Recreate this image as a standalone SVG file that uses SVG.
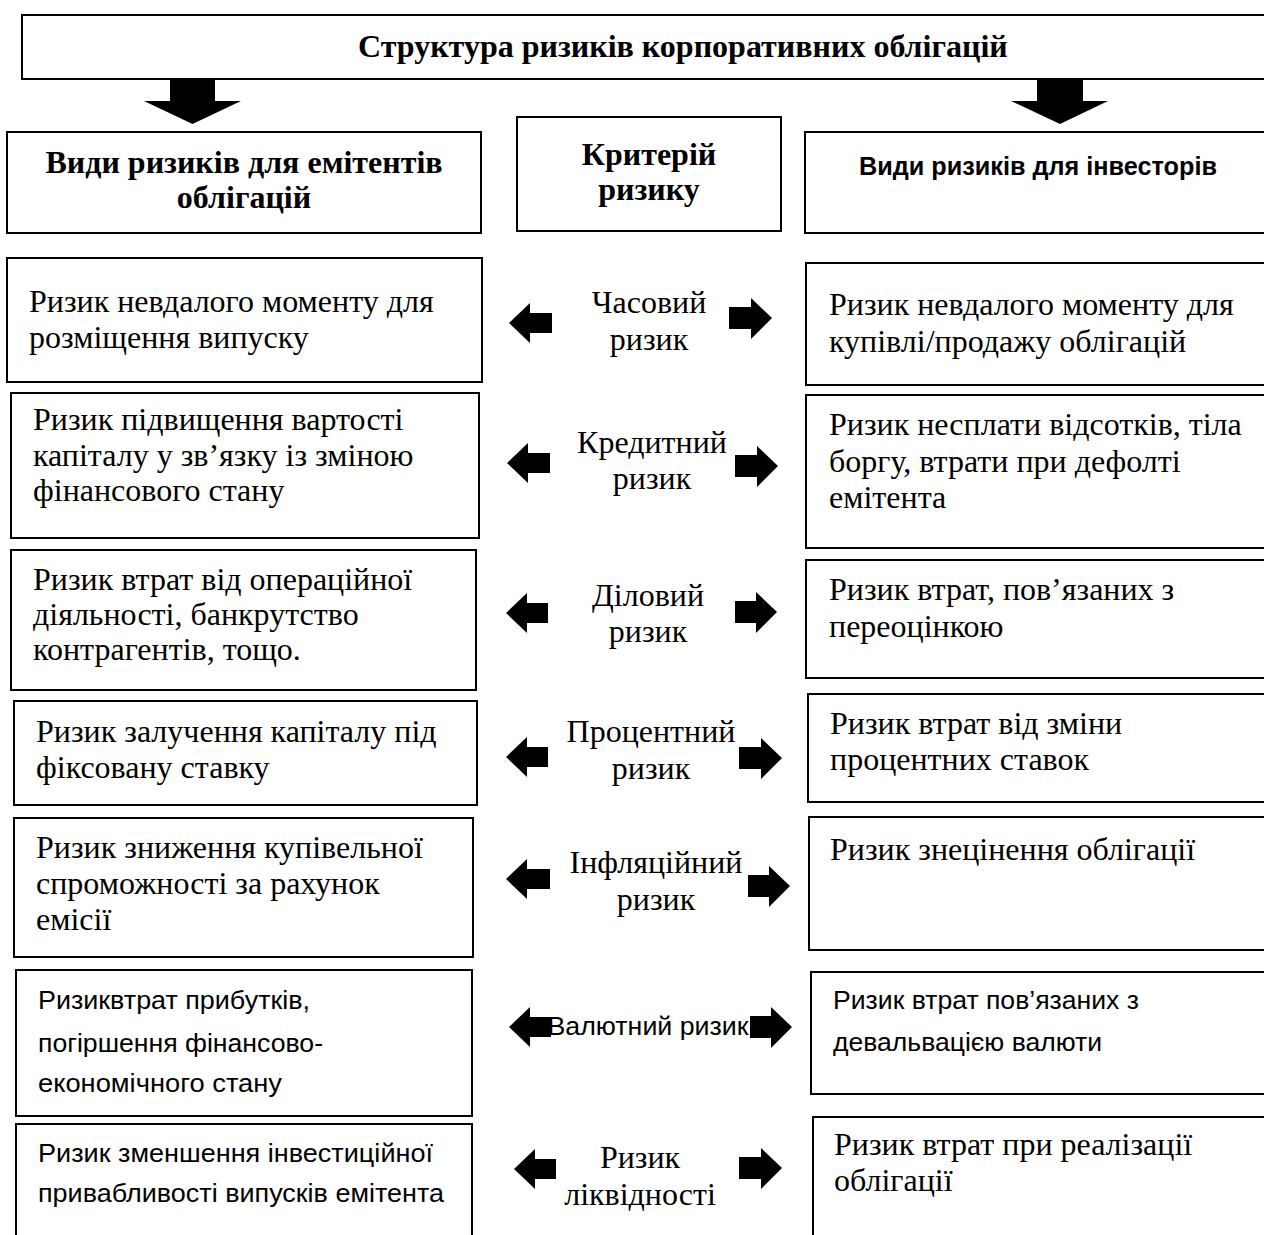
<svg xmlns="http://www.w3.org/2000/svg" width="1264" height="1235" viewBox="0 0 1264 1235">
<style>
.box{fill:#fff;stroke:#000;stroke-width:2}
.t{font-family:"Liberation Serif","Times New Roman",serif;font-size:32px;fill:#000}
.b{font-family:"Liberation Serif","Times New Roman",serif;font-size:32px;font-weight:bold;fill:#000}
.s{font-family:"Liberation Sans",Arial,sans-serif;font-size:26.5px;fill:#000}
.sb{font-family:"Liberation Sans",Arial,sans-serif;font-size:25.5px;font-weight:bold;fill:#000}
.c{text-anchor:middle}
.arr{fill:#000}
</style>
<rect width="1264" height="1235" fill="#fff"/>

<g id="title">
<rect class="box" x="22" y="15" width="1260" height="64"/>
<text class="b" x="358" y="57">Структура ризиків корпоративних облігацій</text>
</g>

<g id="head-issuers">
<rect class="box" x="7" y="132" width="474" height="101"/>
<text class="b c" x="244" y="173">Види ризиків для емітентів</text>
<text class="b c" x="244" y="208">облігацій</text>
</g>

<g id="head-criterion">
<rect class="box" x="517" y="117" width="264" height="114"/>
<text class="b c" x="649" y="165">Критерій</text>
<text class="b c" x="649" y="200">ризику</text>
</g>

<g id="head-investors">
<rect class="box" x="805" y="132" width="480" height="101"/>
<text class="sb" x="859" y="175" textLength="358" lengthAdjust="spacingAndGlyphs">Види ризиків для інвесторів</text>
</g>

<g id="issuer-1">
<rect class="box" x="7" y="258" width="475" height="124"/>
<text class="t" x="29" y="312">Ризик невдалого моменту для</text>
<text class="t" x="29" y="348">розміщення випуску</text>
</g>
<g id="issuer-2">
<rect class="box" x="11" y="393" width="468" height="145"/>
<text class="t" x="33" y="430">Ризик підвищення вартості</text>
<text class="t" x="33" y="466">капіталу у зв’язку із зміною</text>
<text class="t" x="33" y="501">фінансового стану</text>
</g>
<g id="issuer-3">
<rect class="box" x="11" y="550" width="465" height="140"/>
<text class="t" x="33" y="590">Ризик втрат від операційної</text>
<text class="t" x="33" y="625">діяльності, банкрутство</text>
<text class="t" x="33" y="660">контрагентів, тощо.</text>
</g>
<g id="issuer-4">
<rect class="box" x="14" y="701" width="463" height="104"/>
<text class="t" x="36" y="742">Ризик залучення капіталу під</text>
<text class="t" x="36" y="778">фіксовану ставку</text>
</g>
<g id="issuer-5">
<rect class="box" x="14" y="818" width="459" height="139"/>
<text class="t" x="36" y="858">Ризик зниження купівельної</text>
<text class="t" x="36" y="894">спроможності за рахунок</text>
<text class="t" x="36" y="930">емісії</text>
</g>
<g id="issuer-6">
<rect class="box" x="16" y="970" width="456" height="146"/>
<text class="s" x="38" y="1009" textLength="272" lengthAdjust="spacingAndGlyphs">Ризиквтрат прибутків,</text>
<text class="s" x="38" y="1052" textLength="285" lengthAdjust="spacingAndGlyphs">погіршення фінансово-</text>
<text class="s" x="38" y="1092" textLength="244" lengthAdjust="spacingAndGlyphs">економічного стану</text>
</g>
<g id="issuer-7">
<rect class="box" x="16" y="1124" width="456" height="130"/>
<text class="s" x="38" y="1162" textLength="395" lengthAdjust="spacingAndGlyphs">Ризик зменшення інвестиційної</text>
<text class="s" x="38" y="1202" textLength="406" lengthAdjust="spacingAndGlyphs">привабливості випусків емітента</text>
</g>

<g id="crit-1">
<text class="t c" x="649" y="313">Часовий</text>
<text class="t c" x="649" y="350">ризик</text>
</g>
<g id="crit-2">
<text class="t c" x="652" y="453">Кредитний</text>
<text class="t c" x="652" y="489">ризик</text>
</g>
<g id="crit-3">
<text class="t c" x="648" y="606">Діловий</text>
<text class="t c" x="648" y="642">ризик</text>
</g>
<g id="crit-4">
<text class="t c" x="651" y="742">Процентний</text>
<text class="t c" x="651" y="779">ризик</text>
</g>
<g id="crit-5">
<text class="t c" x="656" y="873">Інфляційний</text>
<text class="t c" x="656" y="910">ризик</text>
</g>
<g id="crit-6">
<text class="s c" x="648" y="1035" textLength="201" lengthAdjust="spacingAndGlyphs">Валютний ризик</text>
</g>
<g id="crit-7">
<text class="t c" x="640" y="1168">Ризик</text>
<text class="t c" x="640" y="1205">ліквідності</text>
</g>

<g id="investor-1">
<rect class="box" x="806" y="263" width="480" height="122"/>
<text class="t" x="829" y="315">Ризик невдалого моменту для</text>
<text class="t" x="829" y="352">купівлі/продажу облігацій</text>
</g>
<g id="investor-2">
<rect class="box" x="806" y="395" width="480" height="153"/>
<text class="t" x="829" y="435">Ризик несплати відсотків, тіла</text>
<text class="t" x="829" y="472">боргу, втрати при дефолті</text>
<text class="t" x="829" y="508">емітента</text>
</g>
<g id="investor-3">
<rect class="box" x="806" y="560" width="480" height="118"/>
<text class="t" x="829" y="600">Ризик втрат, пов’язаних з</text>
<text class="t" x="829" y="637">переоцінкою</text>
</g>
<g id="investor-4">
<rect class="box" x="808" y="694" width="480" height="108"/>
<text class="t" x="830" y="734">Ризик втрат від зміни</text>
<text class="t" x="830" y="770">процентних ставок</text>
</g>
<g id="investor-5">
<rect class="box" x="809" y="817" width="480" height="133"/>
<text class="t" x="830" y="860">Ризик знецінення облігації</text>
</g>
<g id="investor-6">
<rect class="box" x="811" y="972" width="480" height="122"/>
<text class="s" x="833" y="1009" textLength="306" lengthAdjust="spacingAndGlyphs">Ризик втрат пов’язаних з</text>
<text class="s" x="833" y="1051" textLength="269" lengthAdjust="spacingAndGlyphs">девальвацією валюти</text>
</g>
<g id="investor-7">
<rect class="box" x="813" y="1117" width="480" height="140"/>
<text class="t" x="834" y="1155">Ризик втрат при реалізації</text>
<text class="t" x="834" y="1191">облігації</text>
</g>

<g id="connectors">
<polygon class="arr" points="170,80 215,80 215,101 241,101 192.5,124 144,101 170,101"/>
<polygon class="arr" points="1037,80 1083,80 1083,101 1108,101 1060,124 1011,101 1037,101"/>

<polygon class="arr" points="509,323 530,303 530,313 552,313 552,333 530,333 530,343"/>
<polygon class="arr" points="507,463 528,443 528,453 550,453 550,473 528,473 528,483"/>
<polygon class="arr" points="506,613 527,593 527,603 548,603 548,623 527,623 527,633"/>
<polygon class="arr" points="506,757 527,737 527,747 548,747 548,767 527,767 527,777"/>
<polygon class="arr" points="506,879 527,859 527,869 550,869 550,889 527,889 527,899"/>
<polygon class="arr" points="509,1027 530,1007 530,1017 551,1017 551,1037 530,1037 530,1047"/>
<polygon class="arr" points="514,1169 535,1149 535,1159 556,1159 556,1179 535,1179 535,1189"/>

<polygon class="arr" points="729,307 751,307 751,298 772,318 751,339 751,329 729,329"/>
<polygon class="arr" points="735,455 757,455 757,446 778,466 757,487 757,477 735,477"/>
<polygon class="arr" points="735,601 756,601 756,592 777,612 756,633 756,623 735,623"/>
<polygon class="arr" points="739,747 761,747 761,738 782,758 761,779 761,769 739,769"/>
<polygon class="arr" points="748,875 769,875 769,866 790,886 769,907 769,897 748,897"/>
<polygon class="arr" points="750,1016 771,1016 771,1007 792,1027 771,1048 771,1038 750,1038"/>
<polygon class="arr" points="739,1157 761,1157 761,1148 782,1168 761,1189 761,1179 739,1179"/>
</g>
</svg>
